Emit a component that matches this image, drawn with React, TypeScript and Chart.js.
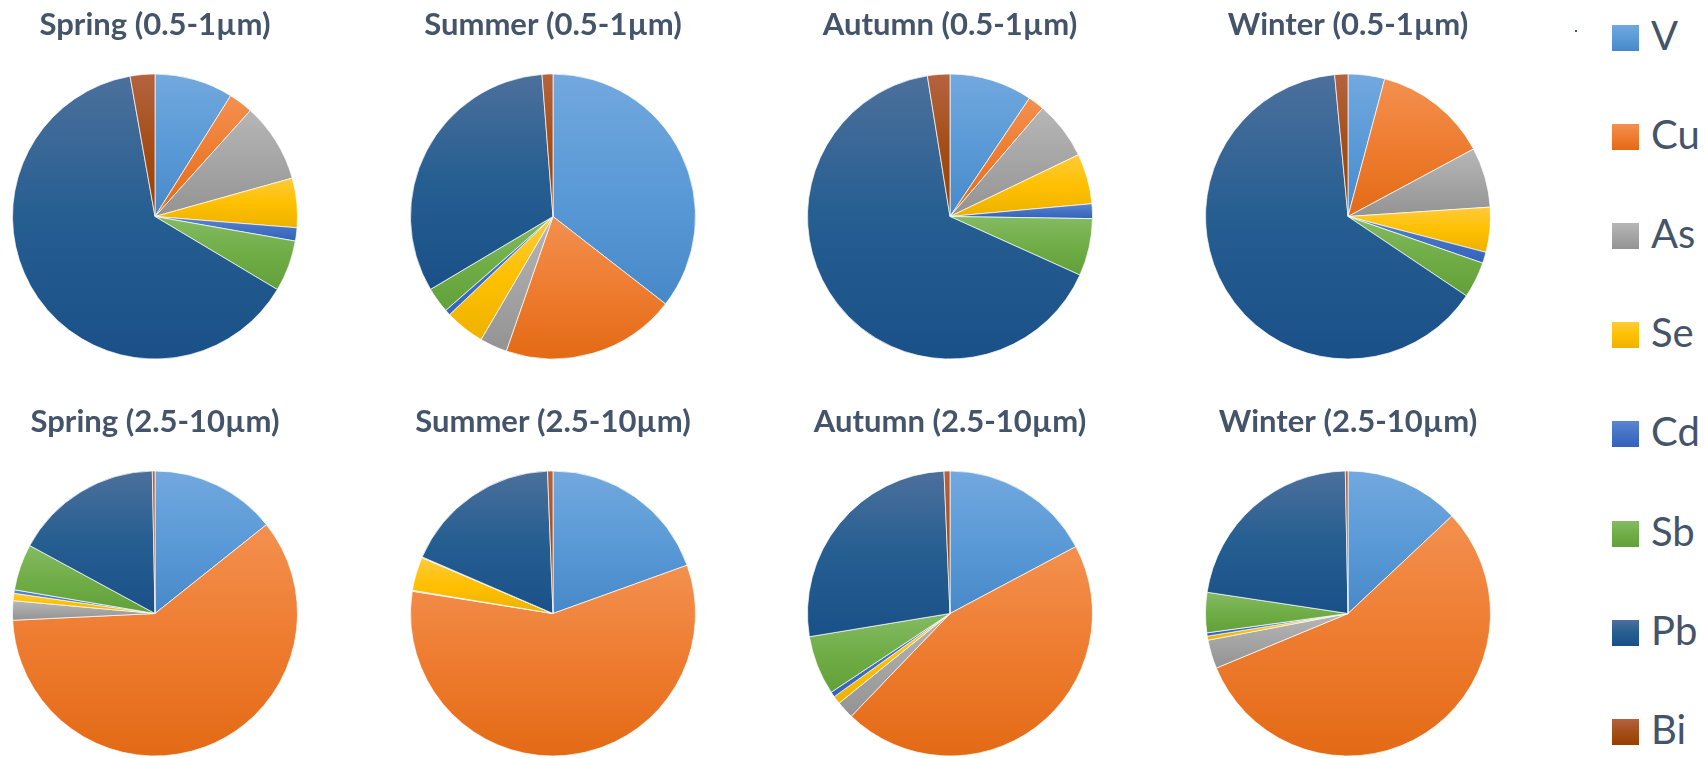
import React, { useEffect, useRef } from "react";
import { Chart, registerables } from "chart.js";

Chart.register(...registerables);

// Element order used by every pie and by the legend
const ELEMENTS = ["V", "Cu", "As", "Se", "Cd", "Sb", "Pb", "Bi"];

// Share of each element (%) per season and size fraction
const spring05 = [8.9, 2.75, 9.0, 5.6, 1.5, 5.8, 63.6, 2.8];
const summer05 = [35.5, 19.8, 3.1, 4.5, 0.64, 2.9, 32.3, 1.23];
const autumn05 = [9.4, 1.86, 6.6, 5.7, 1.67, 6.5, 65.7, 2.54];
const winter05 = [4.15, 13.0, 6.8, 5.1, 1.25, 4.1, 64.1, 1.5];
const spring25 = [14.3, 60.0, 2.2, 0.83, 0.4, 5.25, 16.8, 0.3];
const summer25 = [19.5, 58.0, 0.1, 3.8, 0.05, 0.05, 17.89, 0.61];
const autumn25 = [17.2, 44.9, 2.0, 0.9, 0.6, 6.7, 26.9, 0.67];
const winter25 = [13.0, 55.7, 3.25, 0.46, 0.37, 4.55, 22.3, 0.3];

const TITLES_ROW1 = [
  "Spring (0.5-1µm)",
  "Summer (0.5-1µm)",
  "Autumn (0.5-1µm)",
  "Winter (0.5-1µm)",
];
const TITLES_ROW2 = [
  "Spring (2.5-10µm)",
  "Summer (2.5-10µm)",
  "Autumn (2.5-10µm)",
  "Winter (2.5-10µm)",
];
const SERIES_ROW1 = [spring05, summer05, autumn05, winter05];
const SERIES_ROW2 = [spring25, summer25, autumn25, winter25];

// Gradient stops per element: light top, base middle, dark bottom
const LIGHT = ["#72A8DE", "#F3904F", "#B6B6B6", "#FFCB3A", "#5A86D2", "#84BB63", "#4C709C", "#B4633F"];
const BASE = ["#5A9AD7", "#EE7C30", "#A5A5A5", "#FFC000", "#4472C4", "#70AD47", "#255E91", "#A44E18"];
const DARK = ["#4788C8", "#E36A15", "#939393", "#EDB200", "#3462BD", "#62A03A", "#1A5088", "#983E00"];

const TEXT_COLOR = "#44546A";
const RADIUS = 142.5;
const CANVAS_W = 320;
const CANVAS_H = 360;
const COL_X = [155, 553, 950, 1347.5];
const ROW_TOP = [0, 397];

// Vertical gradient spanning the bounding box of one slice
function sliceGradient(ctx: any) {
  const i = ctx.dataIndex ?? 0;
  const chart = ctx.chart;
  const area = chart.chartArea;
  if (!area || ctx.type !== "data") return BASE[i];
  const data = ctx.dataset.data as number[];
  const total = data.reduce((a, b) => a + b, 0);
  let before = 0;
  for (let k = 0; k < i; k++) before += data[k];
  const a0 = (before / total) * Math.PI * 2;
  const a1 = ((before + data[i]) / total) * Math.PI * 2;
  let maxC = Math.max(Math.cos(a0), Math.cos(a1), 0);
  let minC = Math.min(Math.cos(a0), Math.cos(a1), 0);
  if (a0 <= Math.PI && a1 >= Math.PI) minC = -1;
  if (a1 >= Math.PI * 2 - 1e-9) maxC = 1;
  const cy = (area.top + area.bottom) / 2;
  const y0 = cy - RADIUS * maxC;
  const y1 = Math.max(cy - RADIUS * minC, y0 + 1);
  const g = chart.ctx.createLinearGradient(0, y0, 0, y1);
  g.addColorStop(0, LIGHT[i]);
  g.addColorStop(0.5, BASE[i]);
  g.addColorStop(1, DARK[i]);
  return g;
}

function PieChart({ title, values, left, top }: { title: string; values: number[]; left: number; top: number }) {
  const ref = useRef<HTMLCanvasElement | null>(null);
  useEffect(() => {
    if (!ref.current) return;
    const chart = new Chart(ref.current, {
      type: "pie",
      data: {
        labels: ELEMENTS,
        datasets: [
          {
            data: values,
            backgroundColor: sliceGradient,
            borderColor: "#ffffff",
            borderWidth: 0.7,
          },
        ],
      },
      options: {
        responsive: false,
        animation: false,
        events: [],
        radius: RADIUS,
        layout: { padding: 0 },
        plugins: {
          legend: { display: false },
          tooltip: { enabled: false },
          title: {
            display: true,
            text: title,
            color: TEXT_COLOR,
            font: { family: "Lato", weight: "bold", size: 31, lineHeight: 1.2 },
            padding: { top: 6, bottom: 29.8 },
          },
        },
      } as any,
    });
    return () => chart.destroy();
  }, [title, values]);
  return (
    <canvas
      ref={ref}
      width={CANVAS_W}
      height={CANVAS_H}
      style={{ position: "absolute", left, top, width: CANVAS_W, height: CANVAS_H }}
    />
  );
}

function Legend() {
  const step = 99.1;
  return (
    <>
      <div style={{ position: "absolute", left: 1575, top: 29.5, width: 2, height: 2, background: "#3B5B86" }} />
      {ELEMENTS.map((name, i) => {
        const boxTop = 25 + i * step;
        const textTop = 15 + i * step;
        return (
          <React.Fragment key={name}>
            <div
              style={{
                position: "absolute",
                left: 1612,
                top: boxTop,
                width: 27,
                height: 26,
                background: `linear-gradient(to bottom, ${LIGHT[i]}, ${BASE[i]} 50%, ${DARK[i]})`,
              }}
            />
            <div
              style={{
                position: "absolute",
                left: 1651,
                top: textTop,
                fontFamily: "Lato",
                fontSize: 40,
                lineHeight: "40px",
                color: TEXT_COLOR,
                whiteSpace: "nowrap",
              }}
            >
              {name}
            </div>
          </React.Fragment>
        );
      })}
    </>
  );
}

export default function App() {
  return (
    <div
      style={{
        position: "absolute",
        left: 0,
        top: 0,
        width: 1705,
        height: 758,
        background: "#ffffff",
        overflow: "hidden",
      }}
    >
      {SERIES_ROW1.map((vals, c) => (
        <PieChart key={"r1" + c} title={TITLES_ROW1[c]} values={vals} left={COL_X[c] - CANVAS_W / 2} top={ROW_TOP[0]} />
      ))}
      {SERIES_ROW2.map((vals, c) => (
        <PieChart key={"r2" + c} title={TITLES_ROW2[c]} values={vals} left={COL_X[c] - CANVAS_W / 2} top={ROW_TOP[1]} />
      ))}
      <Legend />
    </div>
  );
}
